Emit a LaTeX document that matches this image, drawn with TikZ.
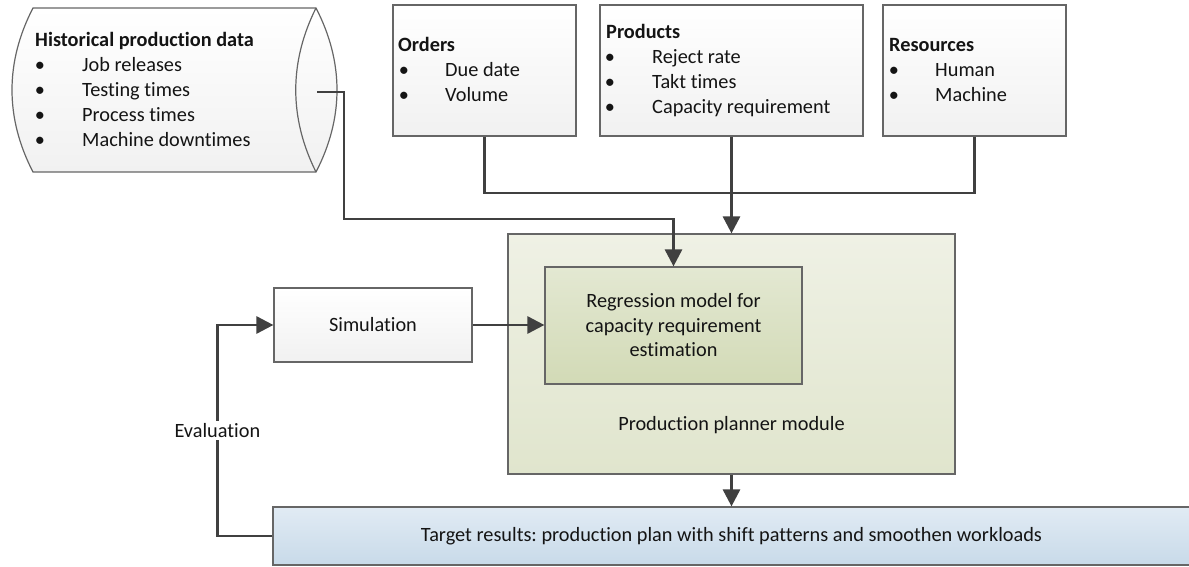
\documentclass[tikz,border=0pt]{standalone}
\usepackage{fontspec}
\setmainfont[Ligatures={NoCommon}]{Carlito}
\usetikzlibrary{arrows.meta,calc}
\definecolor{edgec}{HTML}{404040}
\definecolor{bordc}{HTML}{666666}
\definecolor{txtc}{HTML}{141414}
\definecolor{plantop}{HTML}{EFF1E5}
\definecolor{planbot}{HTML}{E0E5CD}
\definecolor{regtop}{HTML}{E3E8D2}
\definecolor{regbot}{HTML}{D2DAB6}
\definecolor{tgttop}{HTML}{E1EBF4}
\definecolor{tgtbot}{HTML}{C8DAE9}
\frenchspacing
\begin{document}
\begin{tikzpicture}[x=1pt,y=-1pt,
  every node/.style={font=\fontsize{20.3}{24.5}\selectfont, text=txtc},
  boxbase/.style={draw=bordc, line width=1.2pt, rectangle, inner sep=0pt},
  graybox/.style={boxbase, top color=white, bottom color=gray!11},
  planbox/.style={boxbase, top color=plantop, bottom color=planbot},
  regbox/.style={boxbase, top color=regtop, bottom color=regbot, align=center},
  tgtbox/.style={boxbase, top color=tgttop, bottom color=tgtbot},
  conn/.style={draw=edgec, line width=2.8pt},
  arr/.style={conn, -{Triangle[length=17pt,width=17pt]}},
  txt/.style={anchor=base west, inner sep=0pt},
  hdr/.style={anchor=base west, inner sep=0pt, font=\fontsize{20.3}{24.5}\selectfont\bfseries},
  bul/.style={anchor=base, inner sep=0pt},
]
\clip (0,0) rectangle (1189,567);
\fill[white] (0,0) rectangle (1189,567);

% --- cylinder (historical data)
\path[draw=bordc, line width=1.2pt, top color=white, bottom color=gray!11]
  (33,8) -- (316,8) .. controls (344,62) and (344,118) .. (316,172)
  -- (33,172) .. controls (5,118) and (5,62) .. (33,8) -- cycle;
\draw[bordc, line width=1.2pt] (316,8) .. controls (289,62) and (289,118) .. (316,172);
\coordinate (cyl) at (317,92);
\node[hdr] (histh) at (35,47) {Historical production data};
\foreach \t [count=\i] in {Job releases, Testing times, Process times, Machine downtimes} {
  \node[bul] (histb\i) at (40,{47+25*\i}) {\textbullet};
  \node[txt] (histt\i) at (82,{47+25*\i}) {\t};
}

% --- top boxes
\node[graybox, minimum width=183pt, minimum height=131pt] (orders) at (484.5,70.5) {};
\node[hdr] (ordh) at (398,52) {Orders};
\foreach \t [count=\i] in {Due date, Volume} {
  \node[bul] (ordb\i) at (404,{52+25*\i}) {\textbullet};
  \node[txt] (ordt\i) at (445,{52+25*\i}) {\t};
}

\node[graybox, minimum width=263pt, minimum height=131pt] (products) at (731.5,70.5) {};
\node[hdr] (prodh) at (606,39) {Products};
\foreach \t [count=\i] in {Reject rate, Takt times, Capacity requirement} {
  \node[bul] (prodb\i) at (610,{39+25*\i}) {\textbullet};
  \node[txt] (prodt\i) at (652,{39+25*\i}) {\t};
}

\node[graybox, minimum width=183pt, minimum height=131pt] (resources) at (974.5,70.5) {};
\node[hdr] (resh) at (889,52) {Resources};
\foreach \t [count=\i] in {Human, Machine} {
  \node[bul] (resb\i) at (894,{52+25*\i}) {\textbullet};
  \node[txt] (rest\i) at (935,{52+25*\i}) {\t};
}

% --- planner and inner model
\node[planbox, minimum width=447pt, minimum height=240pt] (planner) at (731.5,354) {};
\node[inner sep=0pt] (planlabel) at (731.5,425) {Production planner module};
\node[regbox, minimum width=257pt, minimum height=117pt] (regress) at (673.5,325.5)
  {Regression model for\\capacity requirement\\estimation};

% --- simulation
\node[graybox, minimum width=198pt, minimum height=74pt] (sim) at (373,325) {Simulation};

% --- target
\node[tgtbox, minimum width=917pt, minimum height=58pt] (target) at (731.5,536)
  {Target results: production plan with shift patterns and smoothen workloads};

% --- connectors
\coordinate (join) at (731.5,193);
\draw[conn] (orders.south) |- (join);
\draw[conn] (resources.south) |- (join);
\draw[arr] (products.south) -- (planner.north);
\draw[arr] (cyl) -- (344,92) |- (regress.north |- 0,219) -- (regress.north);
\draw[arr] (sim.east) -- (sim.east -| regress.west);
\draw[arr] (planner.south) -- (target.north);
\draw[arr] (target.west) -- ++(-55,0) coordinate (ev1)
  -- node[fill=white, inner sep=2pt] (evallabel) {Evaluation} (ev1 |- sim.west) -- (sim.west);
\end{tikzpicture}
\end{document}
